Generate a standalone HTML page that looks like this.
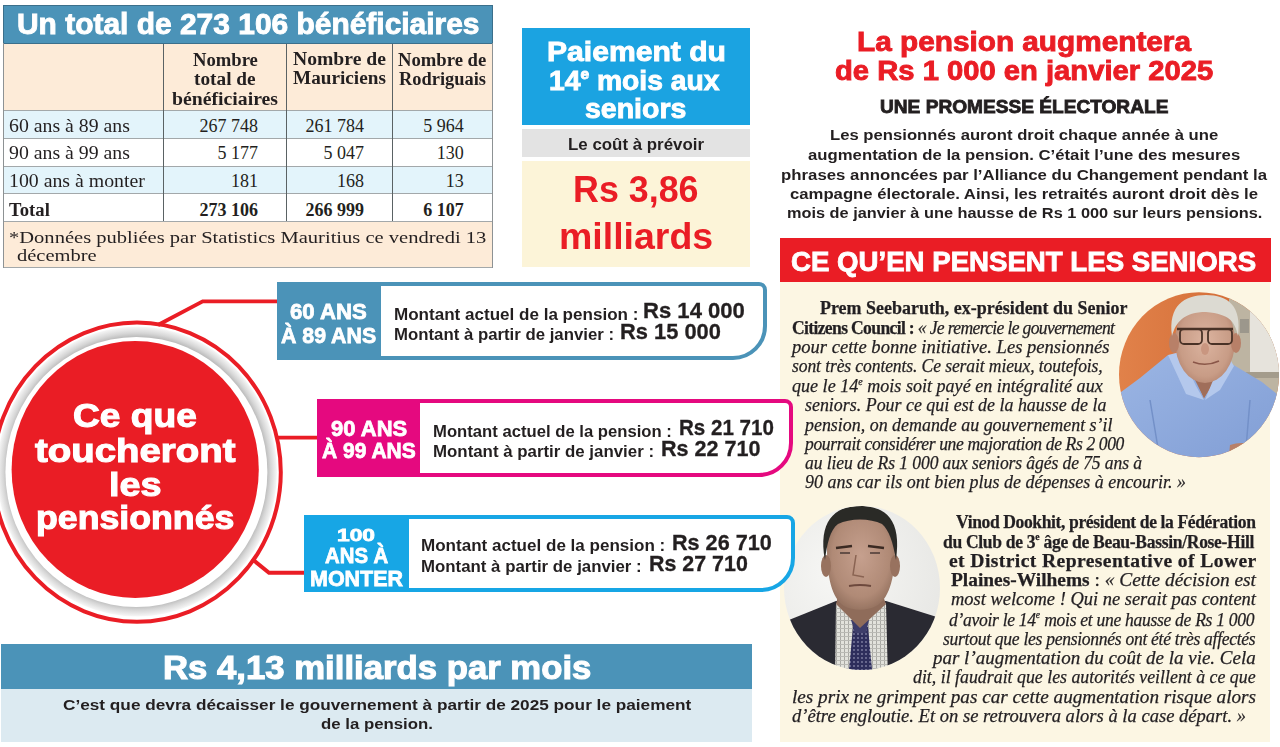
<!DOCTYPE html>
<html><head><meta charset="utf-8"><style>
html,body{margin:0;padding:0;}
body{width:1280px;height:747px;position:relative;overflow:hidden;background:#ffffff;}
.t{position:absolute;white-space:pre;}
sup{font-size:0.55em;vertical-align:0;position:relative;top:-0.7em;letter-spacing:0;}
</style></head><body>
<div style="position:absolute;left:3px;top:5px;width:490px;height:263px;background:#fff;"></div>
<div style="position:absolute;left:3px;top:5px;width:490px;height:38.5px;background:#4b93b8;border:1px solid #3b6f8b;box-sizing:border-box;"></div>
<div style="position:absolute;left:3px;top:43.5px;width:490px;height:66.5px;background:#fdebd8;"></div>
<div style="position:absolute;left:3px;top:110px;width:490px;height:27.5px;background:#e3f4fb;"></div>
<div style="position:absolute;left:3px;top:165.5px;width:490px;height:27.5px;background:#e3f4fb;"></div>
<div style="position:absolute;left:3px;top:221px;width:490px;height:47px;background:#fdebd8;"></div>
<div style="position:absolute;left:3px;top:110px;width:490px;height:1px;background:#a3a8aa;"></div>
<div style="position:absolute;left:3px;top:137.5px;width:490px;height:1.0px;background:#a3a8aa;"></div>
<div style="position:absolute;left:3px;top:165.5px;width:490px;height:1.0px;background:#a3a8aa;"></div>
<div style="position:absolute;left:3px;top:193px;width:490px;height:1px;background:#a3a8aa;"></div>
<div style="position:absolute;left:3px;top:221px;width:490px;height:1px;background:#a3a8aa;"></div>
<div style="position:absolute;left:3px;top:267px;width:490px;height:1px;background:#a3a8aa;"></div>
<div style="position:absolute;left:3px;top:43px;width:1px;height:225px;background:#8d9294;"></div>
<div style="position:absolute;left:492px;top:43px;width:1px;height:225px;background:#8d9294;"></div>
<div style="position:absolute;left:163px;top:43.5px;width:1px;height:177.5px;background:#5a6264;"></div>
<div style="position:absolute;left:286px;top:43.5px;width:1px;height:177.5px;background:#5a6264;"></div>
<div style="position:absolute;left:392px;top:43.5px;width:1px;height:177.5px;background:#5a6264;"></div>
<div style="position:absolute;left:522px;top:28px;width:228px;height:97px;background:#1ba3e1;"></div>
<div style="position:absolute;left:522px;top:128.5px;width:228px;height:28.0px;background:#e3e3e3;"></div>
<div style="position:absolute;left:522px;top:160.7px;width:228px;height:106.30000000000001px;background:#fcf4d8;"></div>
<div style="position:absolute;left:780px;top:282px;width:490px;height:459.5px;background:#fcf6e3;"></div>
<div style="position:absolute;left:780px;top:237.5px;width:491px;height:44.5px;background:#ea1d25;"></div>
<svg style="position:absolute;left:0;top:0" width="1280" height="747" viewBox="0 0 1280 747">
<defs>
<clipPath id="c1"><ellipse cx="1199" cy="374.7" rx="80" ry="82.5"/></clipPath>
<clipPath id="c2"><ellipse cx="862" cy="588" rx="78" ry="82"/></clipPath>
<linearGradient id="org" x1="0" y1="0" x2="1" y2="0"><stop offset="0" stop-color="#e2834b"/><stop offset="0.7" stop-color="#d46e38"/><stop offset="1" stop-color="#c4653a"/></linearGradient>
<linearGradient id="shirt1" x1="0" y1="0" x2="1" y2="1"><stop offset="0" stop-color="#9cb6e4"/><stop offset="1" stop-color="#7f9cd4"/></linearGradient>
<radialGradient id="skin1" cx="0.5" cy="0.5" r="0.6"><stop offset="0" stop-color="#dcb4a0"/><stop offset="0.7" stop-color="#c89c86"/><stop offset="1" stop-color="#ad7c66"/></radialGradient>
<radialGradient id="skin2" cx="0.5" cy="0.45" r="0.6"><stop offset="0" stop-color="#c6a08e"/><stop offset="0.7" stop-color="#b08a76"/><stop offset="1" stop-color="#8f6d5b"/></radialGradient>
<pattern id="chk" width="4" height="4" patternUnits="userSpaceOnUse"><rect width="4" height="4" fill="#e2e2dc"/><rect width="1" height="4" fill="#a9a9a4"/><rect width="4" height="1" fill="#b9b9b4"/></pattern>
<pattern id="dots" width="4" height="4" patternUnits="userSpaceOnUse"><rect width="4" height="4" fill="#2f2f5c"/><circle cx="2" cy="2" r="0.7" fill="#c8c8e0"/></pattern>
<radialGradient id="bg2" cx="0.35" cy="0.4" r="0.7"><stop offset="0" stop-color="#f7f7f5"/><stop offset="1" stop-color="#e6e6e3"/></radialGradient>
<filter id="bl" x="-10%" y="-10%" width="120%" height="120%"><feGaussianBlur stdDeviation="0.7"/></filter>
</defs>
<g clip-path="url(#c1)">
<rect x="1110" y="285" width="175" height="180" fill="url(#org)"/>
<rect x="1229" y="285" width="60" height="180" fill="#bdb4a2"/>
<rect x="1250" y="311" width="34" height="61" fill="#e6e3dc"/>
<rect x="1240" y="319" width="9" height="14" fill="#9c978c"/>
<rect x="1242" y="372" width="45" height="6" fill="#a49c8c"/>
<g filter="url(#bl)">
<path d="M1117,395 L1140,378 L1168,355 L1186,357 L1204,398 L1226,362 L1232,364 L1262,382 L1282,398 L1282,470 L1110,470 Z" fill="url(#shirt1)"/>
<path d="M1180,350 L1204,398 L1228,358 L1226,340 Z" fill="#a06e5a"/>
<path d="M1168,355 L1180,352 L1196,386 L1204,400 L1186,394 Z" fill="#b4c8ec"/>
<path d="M1228,356 L1234,366 L1220,390 L1205,400 L1214,378 Z" fill="#b4c8ec"/>
<path d="M1150,400 L1160,460 M1250,400 L1245,460" stroke="#7390c8" stroke-width="1.5"/>
<ellipse cx="1205" cy="341" rx="30" ry="42" fill="url(#skin1)"/>
<ellipse cx="1174" cy="343" rx="5" ry="10" fill="#b88068"/>
<ellipse cx="1236" cy="343" rx="5" ry="10" fill="#b88068"/>
<path d="M1172,336 C1168,306 1184,295 1206,295 C1228,295 1242,306 1238,336 C1235,322 1230,314 1206,312 C1184,312 1176,322 1172,336 Z" fill="#dcdad2"/>
<path d="M1177,329 L1233,329" stroke="#4a3328" stroke-width="2.6"/>
<rect x="1180" y="329" width="22" height="15" rx="4" fill="none" stroke="#4a3328" stroke-width="1.8"/>
<rect x="1208" y="329" width="24" height="15" rx="4" fill="none" stroke="#4a3328" stroke-width="1.8"/>
<path d="M1193,362 Q1206,367 1219,361" fill="none" stroke="#8a5748" stroke-width="1.6"/>
<ellipse cx="1205" cy="349" rx="4" ry="6" fill="#c99680"/>
<path d="M1230,445 Q1245,440 1260,448 L1258,465 L1228,465 Z" fill="#b98068"/>
</g>
</g>
<g clip-path="url(#c2)">
<rect x="780" y="500" width="170" height="180" fill="url(#bg2)"/>
<g filter="url(#bl)">
<path d="M784,622 L836,601 L886,601 L940,618 L945,680 L780,680 Z" fill="#2a2931"/>
<path d="M836,603 L886,603 L888,680 L852,680 L835,680 Z" fill="url(#chk)"/>

<path d="M853,627 L868,627 L873,680 L848,680 Z" fill="url(#dots)"/>
<path d="M851,620 L869,620 L866,633 L855,633 Z" fill="#3c3c6a"/>
<path d="M840,588 L880,588 L886,604 L860,628 L836,604 Z" fill="#8f6c5a"/>
<path d="M827,548 C826,520 840,512 860,512 C882,512 896,522 895,550 C895,580 888,600 876,606 C866,611 854,611 844,606 C832,598 827,578 827,548 Z" fill="url(#skin2)"/>
<ellipse cx="826" cy="566" rx="5" ry="11" fill="#98725f"/>
<ellipse cx="895" cy="566" rx="5" ry="11" fill="#98725f"/>
<path d="M825,560 C818,522 834,506 860,506 C886,506 902,520 896,560 C893,542 889,530 882,524 C870,518 850,518 838,524 C830,530 827,544 825,560 Z" fill="#2b2a28"/>
<path d="M836,548 L852,546 M868,546 L884,548" stroke="#3a2a24" stroke-width="2.5"/>
<path d="M840,553 L850,553 M870,553 L880,553" stroke="#4a3a34" stroke-width="1.6"/>
<path d="M856,555 L853,575 L864,577" stroke="#8a6452" stroke-width="1.5" fill="none"/>
<path d="M849,586 Q860,584 871,586" stroke="#6d4a3e" stroke-width="2" fill="none"/>
</g>
</g>
</svg>
<div style="position:absolute;left:1px;top:644px;width:751px;height:44.5px;background:#4b93b8;"></div>
<div style="position:absolute;left:1px;top:688.5px;width:751px;height:53.0px;background:#dceaf1;"></div>
<svg style="position:absolute;left:0;top:0" width="1280" height="747" viewBox="0 0 1280 747">
<defs>
<radialGradient id="gshade" cx="0.5" cy="0.5" r="0.5">
<stop offset="0.92" stop-color="#b4b4b4"/>
<stop offset="0.955" stop-color="#d6d6d6"/>
<stop offset="1" stop-color="#f7f7f7"/>
</radialGradient>
</defs>
<polyline points="158,325 202.7,301.4 278,301.4" fill="none" stroke="#ea1d25" stroke-width="3.9"/>
<line x1="276" y1="437.6" x2="318" y2="437.6" stroke="#ea1d25" stroke-width="3.9"/>
<polyline points="252,559 269,572.8 305,572.8" fill="none" stroke="#ea1d25" stroke-width="3.9"/>
<ellipse cx="137" cy="471.5" rx="140" ry="145" fill="url(#gshade)"/>
<ellipse cx="136.4" cy="472" rx="131" ry="135" fill="#ffffff"/>
<ellipse cx="135.2" cy="469.5" rx="123.6" ry="128.5" fill="#ea1d25"/>
<ellipse cx="137" cy="472.2" rx="143.8" ry="149.6" fill="none" stroke="#ea1d25" stroke-width="4"/>
</svg>
<div style="position:absolute;left:327px;top:282.3px;width:440.20000000000005px;height:77.30000000000001px;background:#fff;border:4.2px solid #4b93b8;border-radius:0 8px 34px 0;box-sizing:border-box;"></div>
<div style="position:absolute;left:277px;top:282.3px;width:103.69999999999999px;height:77.30000000000001px;background:#4b93b8;"></div>
<div style="position:absolute;left:367px;top:399.4px;width:426px;height:77.5px;background:#fff;border:4.2px solid #e5097f;border-radius:0 8px 34px 0;box-sizing:border-box;"></div>
<div style="position:absolute;left:317px;top:399.4px;width:103.39999999999998px;height:77.5px;background:#e5097f;"></div>
<div style="position:absolute;left:354.4px;top:515.2px;width:440.30000000000007px;height:77.19999999999993px;background:#fff;border:4.2px solid #17a6e5;border-radius:0 8px 34px 0;box-sizing:border-box;"></div>
<div style="position:absolute;left:304.4px;top:515.2px;width:104.20000000000005px;height:77.19999999999993px;background:#17a6e5;"></div>
<div class="t" style="left:16.9px;top:8.6px;font-family:'Liberation Sans', sans-serif;font-weight:bold;font-style:normal;font-size:29.5px;line-height:29.5px;letter-spacing:0.000px;transform:scaleX(1.0147);transform-origin:0 0;color:#fff;-webkit-text-stroke:0.9px currentColor;">Un total de 273 106 bénéficiaires</div>
<div class="t" style="left:192.9px;top:50.9px;font-family:'Liberation Serif', serif;font-weight:bold;font-style:normal;font-size:18px;line-height:18px;letter-spacing:0.000px;transform:scaleX(1.0356);transform-origin:0 0;color:#231f20;">Nombre</div>
<div class="t" style="left:194.2px;top:69.9px;font-family:'Liberation Serif', serif;font-weight:bold;font-style:normal;font-size:18px;line-height:18px;letter-spacing:0.000px;transform:scaleX(1.0713);transform-origin:0 0;color:#231f20;">total de</div>
<div class="t" style="left:171.9px;top:89.9px;font-family:'Liberation Serif', serif;font-weight:bold;font-style:normal;font-size:18px;line-height:18px;letter-spacing:0.000px;transform:scaleX(1.0967);transform-origin:0 0;color:#231f20;">bénéficiaires</div>
<div class="t" style="left:292.7px;top:50.3px;font-family:'Liberation Serif', serif;font-weight:bold;font-style:normal;font-size:18px;line-height:18px;letter-spacing:0.000px;transform:scaleX(1.0907);transform-origin:0 0;color:#231f20;">Nombre de</div>
<div class="t" style="left:292.7px;top:69.4px;font-family:'Liberation Serif', serif;font-weight:bold;font-style:normal;font-size:18px;line-height:18px;letter-spacing:0.000px;transform:scaleX(1.0678);transform-origin:0 0;color:#231f20;">Mauriciens</div>
<div class="t" style="left:398.3px;top:51.3px;font-family:'Liberation Serif', serif;font-weight:bold;font-style:normal;font-size:18px;line-height:18px;letter-spacing:0.000px;transform:scaleX(1.0367);transform-origin:0 0;color:#231f20;">Nombre de</div>
<div class="t" style="left:399.0px;top:70.4px;font-family:'Liberation Serif', serif;font-weight:bold;font-style:normal;font-size:18px;line-height:18px;letter-spacing:0.000px;transform:scaleX(1.0232);transform-origin:0 0;color:#231f20;">Rodriguais</div>
<div class="t" style="left:9.1px;top:117.4px;font-family:'Liberation Serif', serif;font-weight:normal;font-style:normal;font-size:18px;line-height:18px;letter-spacing:0.000px;transform:scaleX(1.0992);transform-origin:0 0;color:#231f20;">60 ans à 89 ans</div>
<div class="t" style="left:9.1px;top:144.4px;font-family:'Liberation Serif', serif;font-weight:normal;font-style:normal;font-size:18px;line-height:18px;letter-spacing:0.000px;transform:scaleX(1.0992);transform-origin:0 0;color:#231f20;">90 ans à 99 ans</div>
<div class="t" style="left:9.1px;top:171.9px;font-family:'Liberation Serif', serif;font-weight:normal;font-style:normal;font-size:18px;line-height:18px;letter-spacing:0.000px;transform:scaleX(1.1007);transform-origin:0 0;color:#231f20;">100 ans à monter</div>
<div class="t" style="left:9.1px;top:200.5px;font-family:'Liberation Serif', serif;font-weight:bold;font-style:normal;font-size:18px;line-height:18px;letter-spacing:0.000px;transform:scaleX(1.0391);transform-origin:0 0;color:#231f20;">Total</div>
<div class="t" style="left:199.5px;top:117.4px;font-family:'Liberation Serif', serif;font-weight:normal;font-style:normal;font-size:18px;line-height:18px;letter-spacing:0.000px;transform:scaleX(1.0000);transform-origin:0 0;color:#231f20;">267 748</div>
<div class="t" style="left:305.5px;top:117.4px;font-family:'Liberation Serif', serif;font-weight:normal;font-style:normal;font-size:18px;line-height:18px;letter-spacing:0.000px;transform:scaleX(1.0000);transform-origin:0 0;color:#231f20;">261 784</div>
<div class="t" style="left:423.2px;top:117.4px;font-family:'Liberation Serif', serif;font-weight:normal;font-style:normal;font-size:18px;line-height:18px;letter-spacing:0.000px;transform:scaleX(1.0000);transform-origin:0 0;color:#231f20;">5 964</div>
<div class="t" style="left:217.5px;top:144.4px;font-family:'Liberation Serif', serif;font-weight:normal;font-style:normal;font-size:18px;line-height:18px;letter-spacing:0.000px;transform:scaleX(1.0000);transform-origin:0 0;color:#231f20;">5 177</div>
<div class="t" style="left:323.5px;top:144.4px;font-family:'Liberation Serif', serif;font-weight:normal;font-style:normal;font-size:18px;line-height:18px;letter-spacing:0.000px;transform:scaleX(1.0000);transform-origin:0 0;color:#231f20;">5 047</div>
<div class="t" style="left:436.7px;top:144.4px;font-family:'Liberation Serif', serif;font-weight:normal;font-style:normal;font-size:18px;line-height:18px;letter-spacing:0.000px;transform:scaleX(1.0000);transform-origin:0 0;color:#231f20;">130</div>
<div class="t" style="left:231.0px;top:171.9px;font-family:'Liberation Serif', serif;font-weight:normal;font-style:normal;font-size:18px;line-height:18px;letter-spacing:0.000px;transform:scaleX(1.0000);transform-origin:0 0;color:#231f20;">181</div>
<div class="t" style="left:337.0px;top:171.9px;font-family:'Liberation Serif', serif;font-weight:normal;font-style:normal;font-size:18px;line-height:18px;letter-spacing:0.000px;transform:scaleX(1.0000);transform-origin:0 0;color:#231f20;">168</div>
<div class="t" style="left:445.7px;top:171.9px;font-family:'Liberation Serif', serif;font-weight:normal;font-style:normal;font-size:18px;line-height:18px;letter-spacing:0.000px;transform:scaleX(1.0000);transform-origin:0 0;color:#231f20;">13</div>
<div class="t" style="left:199.5px;top:200.5px;font-family:'Liberation Serif', serif;font-weight:bold;font-style:normal;font-size:18px;line-height:18px;letter-spacing:0.000px;transform:scaleX(1.0000);transform-origin:0 0;color:#231f20;">273 106</div>
<div class="t" style="left:305.5px;top:200.5px;font-family:'Liberation Serif', serif;font-weight:bold;font-style:normal;font-size:18px;line-height:18px;letter-spacing:0.000px;transform:scaleX(1.0000);transform-origin:0 0;color:#231f20;">266 999</div>
<div class="t" style="left:423.2px;top:200.5px;font-family:'Liberation Serif', serif;font-weight:bold;font-style:normal;font-size:18px;line-height:18px;letter-spacing:0.000px;transform:scaleX(1.0000);transform-origin:0 0;color:#231f20;">6 107</div>
<div class="t" style="left:9.0px;top:229.3px;font-family:'Liberation Serif', serif;font-weight:normal;font-style:normal;font-size:17.5px;line-height:17.5px;letter-spacing:0.000px;transform:scaleX(1.1734);transform-origin:0 0;color:#231f20;">*Données publiées par Statistics Mauritius ce vendredi 13</div>
<div class="t" style="left:17.2px;top:247.3px;font-family:'Liberation Serif', serif;font-weight:normal;font-style:normal;font-size:17.5px;line-height:17.5px;letter-spacing:0.000px;transform:scaleX(1.1718);transform-origin:0 0;color:#231f20;">décembre</div>
<div class="t" style="left:547.0px;top:37.7px;font-family:'Liberation Sans', sans-serif;font-weight:bold;font-style:normal;font-size:27.5px;line-height:27.5px;letter-spacing:0.000px;transform:scaleX(1.0947);transform-origin:0 0;color:#fff;-webkit-text-stroke:0.9px currentColor;">Paiement du</div>
<div class="t" style="left:549.0px;top:66.5px;font-family:'Liberation Sans', sans-serif;font-weight:bold;font-style:normal;font-size:27.5px;line-height:27.5px;letter-spacing:0.000px;transform:scaleX(1.0276);transform-origin:0 0;color:#fff;-webkit-text-stroke:0.9px currentColor;">14<sup>e</sup> mois aux</div>
<div class="t" style="left:585.3px;top:95.0px;font-family:'Liberation Sans', sans-serif;font-weight:bold;font-style:normal;font-size:27.5px;line-height:27.5px;letter-spacing:0.000px;transform:scaleX(1.0365);transform-origin:0 0;color:#fff;-webkit-text-stroke:0.9px currentColor;">seniors</div>
<div class="t" style="left:568.0px;top:137.0px;font-family:'Liberation Sans', sans-serif;font-weight:bold;font-style:normal;font-size:16px;line-height:16px;letter-spacing:0.000px;transform:scaleX(1.0549);transform-origin:0 0;color:#231f20;">Le coût à prévoir</div>
<div class="t" style="left:573.0px;top:171.4px;font-family:'Liberation Sans', sans-serif;font-weight:bold;font-style:normal;font-size:37px;line-height:37px;letter-spacing:0.000px;transform:scaleX(0.9684);transform-origin:0 0;color:#ea1d25;">Rs 3,86</div>
<div class="t" style="left:558.8px;top:218.3px;font-family:'Liberation Sans', sans-serif;font-weight:bold;font-style:normal;font-size:37px;line-height:37px;letter-spacing:0.000px;transform:scaleX(1.0132);transform-origin:0 0;color:#ea1d25;">milliards</div>
<div class="t" style="left:856.7px;top:28.2px;font-family:'Liberation Sans', sans-serif;font-weight:bold;font-style:normal;font-size:27.5px;line-height:27.5px;letter-spacing:0.000px;transform:scaleX(1.0820);transform-origin:0 0;color:#ea1d25;-webkit-text-stroke:0.9px currentColor;">La pension augmentera</div>
<div class="t" style="left:834.8px;top:57.4px;font-family:'Liberation Sans', sans-serif;font-weight:bold;font-style:normal;font-size:27.5px;line-height:27.5px;letter-spacing:0.000px;transform:scaleX(1.0618);transform-origin:0 0;color:#ea1d25;-webkit-text-stroke:0.9px currentColor;">de Rs 1 000 en janvier 2025</div>
<div class="t" style="left:880.0px;top:98.7px;font-family:'Liberation Sans', sans-serif;font-weight:bold;font-style:normal;font-size:17.5px;line-height:17.5px;letter-spacing:0.000px;transform:scaleX(1.0917);transform-origin:0 0;color:#231f20;-webkit-text-stroke:0.8px currentColor;">UNE PROMESSE ÉLECTORALE</div>
<div class="t" style="left:829.8px;top:127.3px;font-family:'Liberation Sans', sans-serif;font-weight:bold;font-style:normal;font-size:15px;line-height:15px;letter-spacing:0.000px;transform:scaleX(1.1116);transform-origin:0 0;color:#231f20;">Les pensionnés auront droit chaque année à une</div>
<div class="t" style="left:807.8px;top:147.1px;font-family:'Liberation Sans', sans-serif;font-weight:bold;font-style:normal;font-size:15px;line-height:15px;letter-spacing:0.000px;transform:scaleX(1.1151);transform-origin:0 0;color:#231f20;">augmentation de la pension. C’était l’une des mesures</div>
<div class="t" style="left:781.0px;top:166.8px;font-family:'Liberation Sans', sans-serif;font-weight:bold;font-style:normal;font-size:15px;line-height:15px;letter-spacing:0.000px;transform:scaleX(1.1191);transform-origin:0 0;color:#231f20;">phrases annoncées par l’Alliance du Changement pendant la</div>
<div class="t" style="left:790.0px;top:186.3px;font-family:'Liberation Sans', sans-serif;font-weight:bold;font-style:normal;font-size:15px;line-height:15px;letter-spacing:0.000px;transform:scaleX(1.1131);transform-origin:0 0;color:#231f20;">campagne électorale. Ainsi, les retraités auront droit dès le</div>
<div class="t" style="left:786.7px;top:205.1px;font-family:'Liberation Sans', sans-serif;font-weight:bold;font-style:normal;font-size:15px;line-height:15px;letter-spacing:0.000px;transform:scaleX(1.0880);transform-origin:0 0;color:#231f20;">mois de janvier à une hausse de Rs 1 000 sur leurs pensions.</div>
<div class="t" style="left:791.3px;top:246.5px;font-family:'Liberation Sans', sans-serif;font-weight:bold;font-style:normal;font-size:28.5px;line-height:28.5px;letter-spacing:0.000px;transform:scaleX(0.9693);transform-origin:0 0;color:#fff;-webkit-text-stroke:0.9px currentColor;">CE QU’EN PENSENT LES SENIORS</div>
<div class="t" style="left:163.0px;top:650.9px;font-family:'Liberation Sans', sans-serif;font-weight:bold;font-style:normal;font-size:33.5px;line-height:33.5px;letter-spacing:0.000px;transform:scaleX(1.0364);transform-origin:0 0;color:#fff;-webkit-text-stroke:1.1px currentColor;">Rs 4,13 milliards par mois</div>
<div class="t" style="left:62.5px;top:697.4px;font-family:'Liberation Sans', sans-serif;font-weight:bold;font-style:normal;font-size:15px;line-height:15px;letter-spacing:0.000px;transform:scaleX(1.1471);transform-origin:0 0;color:#231f20;">C’est que devra décaisser le gouvernement à partir de 2025 pour le paiement</div>
<div class="t" style="left:320.7px;top:716.4px;font-family:'Liberation Sans', sans-serif;font-weight:bold;font-style:normal;font-size:15px;line-height:15px;letter-spacing:0.000px;transform:scaleX(1.1187);transform-origin:0 0;color:#231f20;">de la pension.</div>
<div class="t" style="left:73.0px;top:399.3px;font-family:'Liberation Sans', sans-serif;font-weight:bold;font-style:normal;font-size:33px;line-height:33px;letter-spacing:0.000px;transform:scaleX(1.1251);transform-origin:0 0;color:#fff;-webkit-text-stroke:1.1px currentColor;">Ce que</div>
<div class="t" style="left:34.9px;top:434.1px;font-family:'Liberation Sans', sans-serif;font-weight:bold;font-style:normal;font-size:33px;line-height:33px;letter-spacing:0.000px;transform:scaleX(1.1635);transform-origin:0 0;color:#fff;-webkit-text-stroke:1.1px currentColor;">toucheront</div>
<div class="t" style="left:108.7px;top:468.1px;font-family:'Liberation Sans', sans-serif;font-weight:bold;font-style:normal;font-size:33px;line-height:33px;letter-spacing:0.000px;transform:scaleX(1.1444);transform-origin:0 0;color:#fff;-webkit-text-stroke:1.1px currentColor;">les</div>
<div class="t" style="left:35.6px;top:501.4px;font-family:'Liberation Sans', sans-serif;font-weight:bold;font-style:normal;font-size:33px;line-height:33px;letter-spacing:0.000px;transform:scaleX(1.0819);transform-origin:0 0;color:#fff;-webkit-text-stroke:1.1px currentColor;">pensionnés</div>
<div class="t" style="left:290.0px;top:300.7px;font-family:'Liberation Sans', sans-serif;font-weight:bold;font-style:normal;font-size:22.5px;line-height:22.5px;letter-spacing:0.000px;transform:scaleX(0.9852);transform-origin:0 0;color:#fff;-webkit-text-stroke:0.8px currentColor;">60 ANS</div>
<div class="t" style="left:280.9px;top:324.6px;font-family:'Liberation Sans', sans-serif;font-weight:bold;font-style:normal;font-size:22.5px;line-height:22.5px;letter-spacing:0.000px;transform:scaleX(0.9467);transform-origin:0 0;color:#fff;-webkit-text-stroke:0.8px currentColor;">À 89 ANS</div>
<div class="t" style="left:330.5px;top:417.9px;font-family:'Liberation Sans', sans-serif;font-weight:bold;font-style:normal;font-size:22.5px;line-height:22.5px;letter-spacing:0.000px;transform:scaleX(0.9775);transform-origin:0 0;color:#fff;-webkit-text-stroke:0.8px currentColor;">90 ANS</div>
<div class="t" style="left:321.8px;top:440.3px;font-family:'Liberation Sans', sans-serif;font-weight:bold;font-style:normal;font-size:22.5px;line-height:22.5px;letter-spacing:0.000px;transform:scaleX(0.9328);transform-origin:0 0;color:#fff;-webkit-text-stroke:0.8px currentColor;">À 99 ANS</div>
<div class="t" style="left:336.5px;top:526.9px;font-family:'Liberation Sans', sans-serif;font-weight:bold;font-style:normal;font-size:17px;line-height:17px;letter-spacing:0.000px;transform:scaleX(1.3392);transform-origin:0 0;color:#fff;-webkit-text-stroke:0.8px currentColor;">100</div>
<div class="t" style="left:324.9px;top:546.1px;font-family:'Liberation Sans', sans-serif;font-weight:bold;font-style:normal;font-size:21.5px;line-height:21.5px;letter-spacing:0.000px;transform:scaleX(0.9461);transform-origin:0 0;color:#fff;-webkit-text-stroke:0.8px currentColor;">ANS À</div>
<div class="t" style="left:310.0px;top:569.4px;font-family:'Liberation Sans', sans-serif;font-weight:bold;font-style:normal;font-size:21.5px;line-height:21.5px;letter-spacing:0.000px;transform:scaleX(0.9982);transform-origin:0 0;color:#fff;-webkit-text-stroke:0.8px currentColor;">MONTER</div>
<div class="t" style="left:394.0px;top:305.5px;font-family:'Liberation Sans', sans-serif;font-weight:bold;font-style:normal;font-size:16.5px;line-height:16.5px;letter-spacing:0.000px;transform:scaleX(1.0333);transform-origin:0 0;color:#231f20;">Montant actuel de la pension :</div>
<div class="t" style="left:642.9px;top:300.2px;font-family:'Liberation Sans', sans-serif;font-weight:bold;font-style:normal;font-size:22.5px;line-height:22.5px;letter-spacing:0.000px;transform:scaleX(0.9813);transform-origin:0 0;color:#231f20;-webkit-text-stroke:0.3px currentColor;">Rs 14 000</div>
<div class="t" style="left:394.0px;top:326.2px;font-family:'Liberation Sans', sans-serif;font-weight:bold;font-style:normal;font-size:16.5px;line-height:16.5px;letter-spacing:0.000px;transform:scaleX(1.0168);transform-origin:0 0;color:#231f20;">Montant à partir de janvier :</div>
<div class="t" style="left:619.8px;top:321.3px;font-family:'Liberation Sans', sans-serif;font-weight:bold;font-style:normal;font-size:22.5px;line-height:22.5px;letter-spacing:0.000px;transform:scaleX(0.9717);transform-origin:0 0;color:#231f20;-webkit-text-stroke:0.3px currentColor;">Rs 15 000</div>
<div class="t" style="left:433.0px;top:422.5px;font-family:'Liberation Sans', sans-serif;font-weight:bold;font-style:normal;font-size:16.5px;line-height:16.5px;letter-spacing:0.000px;transform:scaleX(1.0100);transform-origin:0 0;color:#231f20;">Montant actuel de la pension :</div>
<div class="t" style="left:679.3px;top:417.2px;font-family:'Liberation Sans', sans-serif;font-weight:bold;font-style:normal;font-size:22.5px;line-height:22.5px;letter-spacing:0.000px;transform:scaleX(0.9139);transform-origin:0 0;color:#231f20;-webkit-text-stroke:0.3px currentColor;">Rs 21 710</div>
<div class="t" style="left:433.0px;top:442.6px;font-family:'Liberation Sans', sans-serif;font-weight:bold;font-style:normal;font-size:16.5px;line-height:16.5px;letter-spacing:0.000px;transform:scaleX(1.0214);transform-origin:0 0;color:#231f20;">Montant à partir de janvier :</div>
<div class="t" style="left:661.0px;top:437.7px;font-family:'Liberation Sans', sans-serif;font-weight:bold;font-style:normal;font-size:22.5px;line-height:22.5px;letter-spacing:0.000px;transform:scaleX(0.9582);transform-origin:0 0;color:#231f20;-webkit-text-stroke:0.3px currentColor;">Rs 22 710</div>
<div class="t" style="left:421.3px;top:537.2px;font-family:'Liberation Sans', sans-serif;font-weight:bold;font-style:normal;font-size:16.5px;line-height:16.5px;letter-spacing:0.000px;transform:scaleX(1.0328);transform-origin:0 0;color:#231f20;">Montant actuel de la pension :</div>
<div class="t" style="left:672.3px;top:531.9px;font-family:'Liberation Sans', sans-serif;font-weight:bold;font-style:normal;font-size:22.5px;line-height:22.5px;letter-spacing:0.000px;transform:scaleX(0.9601);transform-origin:0 0;color:#231f20;-webkit-text-stroke:0.3px currentColor;">Rs 26 710</div>
<div class="t" style="left:421.3px;top:557.9px;font-family:'Liberation Sans', sans-serif;font-weight:bold;font-style:normal;font-size:16.5px;line-height:16.5px;letter-spacing:0.000px;transform:scaleX(1.0200);transform-origin:0 0;color:#231f20;">Montant à partir de janvier :</div>
<div class="t" style="left:649.0px;top:553.0px;font-family:'Liberation Sans', sans-serif;font-weight:bold;font-style:normal;font-size:22.5px;line-height:22.5px;letter-spacing:0.000px;transform:scaleX(0.9514);transform-origin:0 0;color:#231f20;-webkit-text-stroke:0.3px currentColor;">Rs 27 710</div>
<div class="t" style="left:819.6px;top:299.0px;font-family:'Liberation Serif', serif;font-weight:normal;font-style:normal;font-size:18.5px;line-height:18.5px;letter-spacing:0.000px;transform:scaleX(0.9706);transform-origin:0 0;color:#221f22;-webkit-text-stroke:0.25px currentColor;"><b>Prem Seebaruth, ex-président du Senior</b></div>
<div class="t" style="left:792.0px;top:318.9px;font-family:'Liberation Serif', serif;font-weight:normal;font-style:normal;font-size:18.5px;line-height:18.5px;letter-spacing:-0.684px;transform:scaleX(0.9500);transform-origin:0 0;color:#221f22;-webkit-text-stroke:0.25px currentColor;"><b>Citizens Council :</b> <i>« Je remercie le gouvernement</i></div>
<div class="t" style="left:792.0px;top:338.0px;font-family:'Liberation Serif', serif;font-weight:normal;font-style:normal;font-size:18.5px;line-height:18.5px;letter-spacing:-0.000px;transform:scaleX(1.0032);transform-origin:0 0;color:#221f22;-webkit-text-stroke:0.25px currentColor;"><i>pour cette bonne initiative. Les pensionnés</i></div>
<div class="t" style="left:792.0px;top:357.2px;font-family:'Liberation Serif', serif;font-weight:normal;font-style:normal;font-size:18.5px;line-height:18.5px;letter-spacing:-0.117px;transform:scaleX(0.9500);transform-origin:0 0;color:#221f22;-webkit-text-stroke:0.25px currentColor;"><i>sont très contents. Ce serait mieux, toutefois,</i></div>
<div class="t" style="left:792.0px;top:376.8px;font-family:'Liberation Serif', serif;font-weight:normal;font-style:normal;font-size:18.5px;line-height:18.5px;letter-spacing:0.000px;transform:scaleX(0.9773);transform-origin:0 0;color:#221f22;-webkit-text-stroke:0.25px currentColor;"><i>que le 14<sup>e</sup> mois soit payé en intégralité aux</i></div>
<div class="t" style="left:805.2px;top:396.2px;font-family:'Liberation Serif', serif;font-weight:normal;font-style:normal;font-size:18.5px;line-height:18.5px;letter-spacing:0.000px;transform:scaleX(0.9680);transform-origin:0 0;color:#221f22;-webkit-text-stroke:0.25px currentColor;"><i>seniors. Pour ce qui est de la hausse de la</i></div>
<div class="t" style="left:805.0px;top:415.5px;font-family:'Liberation Serif', serif;font-weight:normal;font-style:normal;font-size:18.5px;line-height:18.5px;letter-spacing:0.000px;transform:scaleX(0.9684);transform-origin:0 0;color:#221f22;-webkit-text-stroke:0.25px currentColor;"><i>pension, on demande au gouvernement s’il</i></div>
<div class="t" style="left:805.0px;top:434.8px;font-family:'Liberation Serif', serif;font-weight:normal;font-style:normal;font-size:18.5px;line-height:18.5px;letter-spacing:-0.404px;transform:scaleX(0.9500);transform-origin:0 0;color:#221f22;-webkit-text-stroke:0.25px currentColor;"><i>pourrait considérer une majoration de Rs 2 000</i></div>
<div class="t" style="left:805.0px;top:454.0px;font-family:'Liberation Serif', serif;font-weight:normal;font-style:normal;font-size:18.5px;line-height:18.5px;letter-spacing:-0.105px;transform:scaleX(0.9500);transform-origin:0 0;color:#221f22;-webkit-text-stroke:0.25px currentColor;"><i>au lieu de Rs 1 000 aux seniors âgés de 75 ans à</i></div>
<div class="t" style="left:805.0px;top:473.0px;font-family:'Liberation Serif', serif;font-weight:normal;font-style:normal;font-size:18.5px;line-height:18.5px;letter-spacing:0.000px;transform:scaleX(0.9705);transform-origin:0 0;color:#221f22;-webkit-text-stroke:0.25px currentColor;"><i>90 ans car ils ont bien plus de dépenses à encourir. »</i></div>
<div class="t" style="left:956.4px;top:513.2px;font-family:'Liberation Serif', serif;font-weight:normal;font-style:normal;font-size:18.5px;line-height:18.5px;letter-spacing:-0.416px;transform:scaleX(0.9500);transform-origin:0 0;color:#221f22;-webkit-text-stroke:0.25px currentColor;"><b>Vinod Dookhit, président de la Fédération</b></div>
<div class="t" style="left:943.0px;top:532.5px;font-family:'Liberation Serif', serif;font-weight:normal;font-style:normal;font-size:18.5px;line-height:18.5px;letter-spacing:-0.347px;transform:scaleX(0.9500);transform-origin:0 0;color:#221f22;-webkit-text-stroke:0.25px currentColor;"><b>du Club de 3<sup>e</sup> âge de Beau-Bassin/Rose-Hill</b></div>
<div class="t" style="left:949.0px;top:551.8px;font-family:'Liberation Serif', serif;font-weight:normal;font-style:normal;font-size:18.5px;line-height:18.5px;letter-spacing:0.378px;transform:scaleX(1.0600);transform-origin:0 0;color:#221f22;-webkit-text-stroke:0.25px currentColor;"><b>et District Representative of Lower</b></div>
<div class="t" style="left:951.0px;top:571.0px;font-family:'Liberation Serif', serif;font-weight:normal;font-style:normal;font-size:18.5px;line-height:18.5px;letter-spacing:0.000px;transform:scaleX(1.0481);transform-origin:0 0;color:#221f22;-webkit-text-stroke:0.25px currentColor;"><b>Plaines-Wilhems</b> : <i>« Cette décision est</i></div>
<div class="t" style="left:951.0px;top:590.4px;font-family:'Liberation Serif', serif;font-weight:normal;font-style:normal;font-size:18.5px;line-height:18.5px;letter-spacing:0.000px;transform:scaleX(0.9976);transform-origin:0 0;color:#221f22;-webkit-text-stroke:0.25px currentColor;"><i>most welcome ! Qui ne serait pas content</i></div>
<div class="t" style="left:948.5px;top:610.5px;font-family:'Liberation Serif', serif;font-weight:normal;font-style:normal;font-size:18.5px;line-height:18.5px;letter-spacing:-0.320px;transform:scaleX(0.9500);transform-origin:0 0;color:#221f22;-webkit-text-stroke:0.25px currentColor;"><i>d’avoir le 14<sup>e</sup> mois et une hausse de Rs 1 000</i></div>
<div class="t" style="left:943.3px;top:630.0px;font-family:'Liberation Serif', serif;font-weight:normal;font-style:normal;font-size:18.5px;line-height:18.5px;letter-spacing:-0.310px;transform:scaleX(0.9500);transform-origin:0 0;color:#221f22;-webkit-text-stroke:0.25px currentColor;"><i>surtout que les pensionnés ont été très affectés</i></div>
<div class="t" style="left:933.3px;top:649.0px;font-family:'Liberation Serif', serif;font-weight:normal;font-style:normal;font-size:18.5px;line-height:18.5px;letter-spacing:0.000px;transform:scaleX(1.0262);transform-origin:0 0;color:#221f22;-webkit-text-stroke:0.25px currentColor;"><i>par l’augmentation du coût de la vie. Cela</i></div>
<div class="t" style="left:913.4px;top:668.0px;font-family:'Liberation Serif', serif;font-weight:normal;font-style:normal;font-size:18.5px;line-height:18.5px;letter-spacing:0.000px;transform:scaleX(0.9636);transform-origin:0 0;color:#221f22;-webkit-text-stroke:0.25px currentColor;"><i>dit, il faudrait que les autorités veillent à ce que</i></div>
<div class="t" style="left:792.0px;top:687.6px;font-family:'Liberation Serif', serif;font-weight:normal;font-style:normal;font-size:18.5px;line-height:18.5px;letter-spacing:0.000px;transform:scaleX(1.0368);transform-origin:0 0;color:#221f22;-webkit-text-stroke:0.25px currentColor;"><i>les prix ne grimpent pas car cette augmentation risque alors</i></div>
<div class="t" style="left:792.0px;top:707.0px;font-family:'Liberation Serif', serif;font-weight:normal;font-style:normal;font-size:18.5px;line-height:18.5px;letter-spacing:0.000px;transform:scaleX(1.0030);transform-origin:0 0;color:#221f22;-webkit-text-stroke:0.25px currentColor;"><i>d’être engloutie. Et on se retrouvera alors à la case départ. »</i></div>
</body></html>
